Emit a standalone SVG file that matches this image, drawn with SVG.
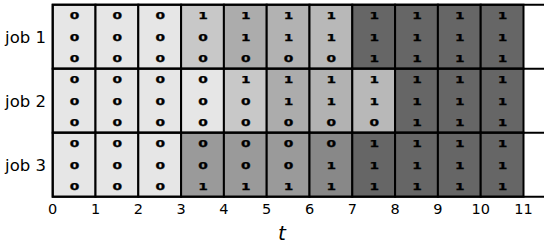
<svg xmlns="http://www.w3.org/2000/svg" width="550" height="246" viewBox="0 0 550 246">
<style>
.c{stroke:#000;stroke-width:2}
.v{font-family:"DejaVu Sans",sans-serif;font-weight:bold;font-size:9.2px;text-anchor:middle;fill:#000;stroke:#000;stroke-width:0.25}
.lab{font-family:"DejaVu Sans",sans-serif;font-size:16.5px;text-anchor:end;fill:#000}
.tk{font-family:"DejaVu Sans",sans-serif;font-size:14.5px;text-anchor:middle;fill:#000}
.ax{stroke:#000;stroke-width:2;fill:none}
.a{fill:#e6e6e6}.b{fill:#c8c8c8}.d{fill:#acacac}.e{fill:#b2b2b2}.f{fill:#b8b8b8}.g{fill:#666666}.h{fill:#9a9a9a}.i{fill:#888888}
</style>
<rect width="550" height="246" fill="#fff"/>
<g id="job1">
<rect class="c a" x="52.7" y="4.7" width="42.8" height="64"/>
<rect class="c a" x="95.5" y="4.7" width="42.8" height="64"/>
<rect class="c a" x="138.3" y="4.7" width="42.8" height="64"/>
<rect class="c b" x="181.1" y="4.7" width="42.8" height="64"/>
<rect class="c d" x="223.9" y="4.7" width="42.8" height="64"/>
<rect class="c e" x="266.7" y="4.7" width="42.8" height="64"/>
<rect class="c f" x="309.5" y="4.7" width="42.8" height="64"/>
<rect class="c g" x="352.3" y="4.7" width="42.8" height="64"/>
<rect class="c g" x="395.1" y="4.7" width="42.8" height="64"/>
<rect class="c g" x="437.9" y="4.7" width="42.8" height="64"/>
<rect class="c g" x="480.7" y="4.7" width="42.8" height="64"/>
<g class="v">
<text x="74.6" y="19.2" textLength="9.6" lengthAdjust="spacingAndGlyphs">0</text><text x="117.4" y="19.2" textLength="9.6" lengthAdjust="spacingAndGlyphs">0</text><text x="160.2" y="19.2" textLength="9.6" lengthAdjust="spacingAndGlyphs">0</text><text x="203" y="19.2" textLength="9.6" lengthAdjust="spacingAndGlyphs">1</text><text x="245.8" y="19.2" textLength="9.6" lengthAdjust="spacingAndGlyphs">1</text><text x="288.6" y="19.2" textLength="9.6" lengthAdjust="spacingAndGlyphs">1</text><text x="331.4" y="19.2" textLength="9.6" lengthAdjust="spacingAndGlyphs">1</text><text x="374.2" y="19.2" textLength="9.6" lengthAdjust="spacingAndGlyphs">1</text><text x="417" y="19.2" textLength="9.6" lengthAdjust="spacingAndGlyphs">1</text><text x="459.8" y="19.2" textLength="9.6" lengthAdjust="spacingAndGlyphs">1</text><text x="502.6" y="19.2" textLength="9.6" lengthAdjust="spacingAndGlyphs">1</text>
<text x="74.6" y="40.7" textLength="9.6" lengthAdjust="spacingAndGlyphs">0</text><text x="117.4" y="40.7" textLength="9.6" lengthAdjust="spacingAndGlyphs">0</text><text x="160.2" y="40.7" textLength="9.6" lengthAdjust="spacingAndGlyphs">0</text><text x="203" y="40.7" textLength="9.6" lengthAdjust="spacingAndGlyphs">0</text><text x="245.8" y="40.7" textLength="9.6" lengthAdjust="spacingAndGlyphs">1</text><text x="288.6" y="40.7" textLength="9.6" lengthAdjust="spacingAndGlyphs">1</text><text x="331.4" y="40.7" textLength="9.6" lengthAdjust="spacingAndGlyphs">1</text><text x="374.2" y="40.7" textLength="9.6" lengthAdjust="spacingAndGlyphs">1</text><text x="417" y="40.7" textLength="9.6" lengthAdjust="spacingAndGlyphs">1</text><text x="459.8" y="40.7" textLength="9.6" lengthAdjust="spacingAndGlyphs">1</text><text x="502.6" y="40.7" textLength="9.6" lengthAdjust="spacingAndGlyphs">1</text>
<text x="74.6" y="62.2" textLength="9.6" lengthAdjust="spacingAndGlyphs">0</text><text x="117.4" y="62.2" textLength="9.6" lengthAdjust="spacingAndGlyphs">0</text><text x="160.2" y="62.2" textLength="9.6" lengthAdjust="spacingAndGlyphs">0</text><text x="203" y="62.2" textLength="9.6" lengthAdjust="spacingAndGlyphs">0</text><text x="245.8" y="62.2" textLength="9.6" lengthAdjust="spacingAndGlyphs">0</text><text x="288.6" y="62.2" textLength="9.6" lengthAdjust="spacingAndGlyphs">0</text><text x="331.4" y="62.2" textLength="9.6" lengthAdjust="spacingAndGlyphs">0</text><text x="374.2" y="62.2" textLength="9.6" lengthAdjust="spacingAndGlyphs">1</text><text x="417" y="62.2" textLength="9.6" lengthAdjust="spacingAndGlyphs">1</text><text x="459.8" y="62.2" textLength="9.6" lengthAdjust="spacingAndGlyphs">1</text><text x="502.6" y="62.2" textLength="9.6" lengthAdjust="spacingAndGlyphs">1</text>
</g>
<text class="lab" x="46" y="43">job 1</text>
</g>
<g id="job2">
<rect class="c a" x="52.7" y="68.7" width="42.8" height="64"/>
<rect class="c a" x="95.5" y="68.7" width="42.8" height="64"/>
<rect class="c a" x="138.3" y="68.7" width="42.8" height="64"/>
<rect class="c a" x="181.1" y="68.7" width="42.8" height="64"/>
<rect class="c b" x="223.9" y="68.7" width="42.8" height="64"/>
<rect class="c d" x="266.7" y="68.7" width="42.8" height="64"/>
<rect class="c e" x="309.5" y="68.7" width="42.8" height="64"/>
<rect class="c f" x="352.3" y="68.7" width="42.8" height="64"/>
<rect class="c g" x="395.1" y="68.7" width="42.8" height="64"/>
<rect class="c g" x="437.9" y="68.7" width="42.8" height="64"/>
<rect class="c g" x="480.7" y="68.7" width="42.8" height="64"/>
<g class="v">
<text x="74.6" y="83.2" textLength="9.6" lengthAdjust="spacingAndGlyphs">0</text><text x="117.4" y="83.2" textLength="9.6" lengthAdjust="spacingAndGlyphs">0</text><text x="160.2" y="83.2" textLength="9.6" lengthAdjust="spacingAndGlyphs">0</text><text x="203" y="83.2" textLength="9.6" lengthAdjust="spacingAndGlyphs">0</text><text x="245.8" y="83.2" textLength="9.6" lengthAdjust="spacingAndGlyphs">1</text><text x="288.6" y="83.2" textLength="9.6" lengthAdjust="spacingAndGlyphs">1</text><text x="331.4" y="83.2" textLength="9.6" lengthAdjust="spacingAndGlyphs">1</text><text x="374.2" y="83.2" textLength="9.6" lengthAdjust="spacingAndGlyphs">1</text><text x="417" y="83.2" textLength="9.6" lengthAdjust="spacingAndGlyphs">1</text><text x="459.8" y="83.2" textLength="9.6" lengthAdjust="spacingAndGlyphs">1</text><text x="502.6" y="83.2" textLength="9.6" lengthAdjust="spacingAndGlyphs">1</text>
<text x="74.6" y="104.7" textLength="9.6" lengthAdjust="spacingAndGlyphs">0</text><text x="117.4" y="104.7" textLength="9.6" lengthAdjust="spacingAndGlyphs">0</text><text x="160.2" y="104.7" textLength="9.6" lengthAdjust="spacingAndGlyphs">0</text><text x="203" y="104.7" textLength="9.6" lengthAdjust="spacingAndGlyphs">0</text><text x="245.8" y="104.7" textLength="9.6" lengthAdjust="spacingAndGlyphs">0</text><text x="288.6" y="104.7" textLength="9.6" lengthAdjust="spacingAndGlyphs">1</text><text x="331.4" y="104.7" textLength="9.6" lengthAdjust="spacingAndGlyphs">1</text><text x="374.2" y="104.7" textLength="9.6" lengthAdjust="spacingAndGlyphs">1</text><text x="417" y="104.7" textLength="9.6" lengthAdjust="spacingAndGlyphs">1</text><text x="459.8" y="104.7" textLength="9.6" lengthAdjust="spacingAndGlyphs">1</text><text x="502.6" y="104.7" textLength="9.6" lengthAdjust="spacingAndGlyphs">1</text>
<text x="74.6" y="126.2" textLength="9.6" lengthAdjust="spacingAndGlyphs">0</text><text x="117.4" y="126.2" textLength="9.6" lengthAdjust="spacingAndGlyphs">0</text><text x="160.2" y="126.2" textLength="9.6" lengthAdjust="spacingAndGlyphs">0</text><text x="203" y="126.2" textLength="9.6" lengthAdjust="spacingAndGlyphs">0</text><text x="245.8" y="126.2" textLength="9.6" lengthAdjust="spacingAndGlyphs">0</text><text x="288.6" y="126.2" textLength="9.6" lengthAdjust="spacingAndGlyphs">0</text><text x="331.4" y="126.2" textLength="9.6" lengthAdjust="spacingAndGlyphs">0</text><text x="374.2" y="126.2" textLength="9.6" lengthAdjust="spacingAndGlyphs">0</text><text x="417" y="126.2" textLength="9.6" lengthAdjust="spacingAndGlyphs">1</text><text x="459.8" y="126.2" textLength="9.6" lengthAdjust="spacingAndGlyphs">1</text><text x="502.6" y="126.2" textLength="9.6" lengthAdjust="spacingAndGlyphs">1</text>
</g>
<text class="lab" x="46" y="107">job 2</text>
</g>
<g id="job3">
<rect class="c a" x="52.7" y="132.7" width="42.8" height="64"/>
<rect class="c a" x="95.5" y="132.7" width="42.8" height="64"/>
<rect class="c a" x="138.3" y="132.7" width="42.8" height="64"/>
<rect class="c h" x="181.1" y="132.7" width="42.8" height="64"/>
<rect class="c h" x="223.9" y="132.7" width="42.8" height="64"/>
<rect class="c h" x="266.7" y="132.7" width="42.8" height="64"/>
<rect class="c i" x="309.5" y="132.7" width="42.8" height="64"/>
<rect class="c g" x="352.3" y="132.7" width="42.8" height="64"/>
<rect class="c g" x="395.1" y="132.7" width="42.8" height="64"/>
<rect class="c g" x="437.9" y="132.7" width="42.8" height="64"/>
<rect class="c g" x="480.7" y="132.7" width="42.8" height="64"/>
<g class="v">
<text x="74.6" y="147.2" textLength="9.6" lengthAdjust="spacingAndGlyphs">0</text><text x="117.4" y="147.2" textLength="9.6" lengthAdjust="spacingAndGlyphs">0</text><text x="160.2" y="147.2" textLength="9.6" lengthAdjust="spacingAndGlyphs">0</text><text x="203" y="147.2" textLength="9.6" lengthAdjust="spacingAndGlyphs">0</text><text x="245.8" y="147.2" textLength="9.6" lengthAdjust="spacingAndGlyphs">0</text><text x="288.6" y="147.2" textLength="9.6" lengthAdjust="spacingAndGlyphs">0</text><text x="331.4" y="147.2" textLength="9.6" lengthAdjust="spacingAndGlyphs">0</text><text x="374.2" y="147.2" textLength="9.6" lengthAdjust="spacingAndGlyphs">1</text><text x="417" y="147.2" textLength="9.6" lengthAdjust="spacingAndGlyphs">1</text><text x="459.8" y="147.2" textLength="9.6" lengthAdjust="spacingAndGlyphs">1</text><text x="502.6" y="147.2" textLength="9.6" lengthAdjust="spacingAndGlyphs">1</text>
<text x="74.6" y="168.7" textLength="9.6" lengthAdjust="spacingAndGlyphs">0</text><text x="117.4" y="168.7" textLength="9.6" lengthAdjust="spacingAndGlyphs">0</text><text x="160.2" y="168.7" textLength="9.6" lengthAdjust="spacingAndGlyphs">0</text><text x="203" y="168.7" textLength="9.6" lengthAdjust="spacingAndGlyphs">0</text><text x="245.8" y="168.7" textLength="9.6" lengthAdjust="spacingAndGlyphs">0</text><text x="288.6" y="168.7" textLength="9.6" lengthAdjust="spacingAndGlyphs">0</text><text x="331.4" y="168.7" textLength="9.6" lengthAdjust="spacingAndGlyphs">1</text><text x="374.2" y="168.7" textLength="9.6" lengthAdjust="spacingAndGlyphs">1</text><text x="417" y="168.7" textLength="9.6" lengthAdjust="spacingAndGlyphs">1</text><text x="459.8" y="168.7" textLength="9.6" lengthAdjust="spacingAndGlyphs">1</text><text x="502.6" y="168.7" textLength="9.6" lengthAdjust="spacingAndGlyphs">1</text>
<text x="74.6" y="190.2" textLength="9.6" lengthAdjust="spacingAndGlyphs">0</text><text x="117.4" y="190.2" textLength="9.6" lengthAdjust="spacingAndGlyphs">0</text><text x="160.2" y="190.2" textLength="9.6" lengthAdjust="spacingAndGlyphs">0</text><text x="203" y="190.2" textLength="9.6" lengthAdjust="spacingAndGlyphs">1</text><text x="245.8" y="190.2" textLength="9.6" lengthAdjust="spacingAndGlyphs">1</text><text x="288.6" y="190.2" textLength="9.6" lengthAdjust="spacingAndGlyphs">1</text><text x="331.4" y="190.2" textLength="9.6" lengthAdjust="spacingAndGlyphs">1</text><text x="374.2" y="190.2" textLength="9.6" lengthAdjust="spacingAndGlyphs">1</text><text x="417" y="190.2" textLength="9.6" lengthAdjust="spacingAndGlyphs">1</text><text x="459.8" y="190.2" textLength="9.6" lengthAdjust="spacingAndGlyphs">1</text><text x="502.6" y="190.2" textLength="9.6" lengthAdjust="spacingAndGlyphs">1</text>
</g>
<text class="lab" x="46" y="171">job 3</text>
</g>
<g id="axes">
<path class="ax" d="M52.7 4.7H544M52.7 68.7H544M52.7 132.7H544M52.7 196.7H544M52.7 3.7V197.7"/>
<g class="tk">
<text x="52.7" y="214">0</text><text x="95.5" y="214">1</text><text x="138.3" y="214">2</text><text x="181.1" y="214">3</text><text x="223.9" y="214">4</text><text x="266.7" y="214">5</text><text x="309.5" y="214">6</text><text x="352.3" y="214">7</text><text x="395.1" y="214">8</text><text x="437.9" y="214">9</text><text x="480.7" y="214">10</text><text x="523.5" y="214">11</text>
</g>
<text x="282" y="240" font-family="DejaVu Sans, sans-serif" font-style="italic" font-size="20" text-anchor="middle" fill="#000">t</text>
</g>
</svg>
